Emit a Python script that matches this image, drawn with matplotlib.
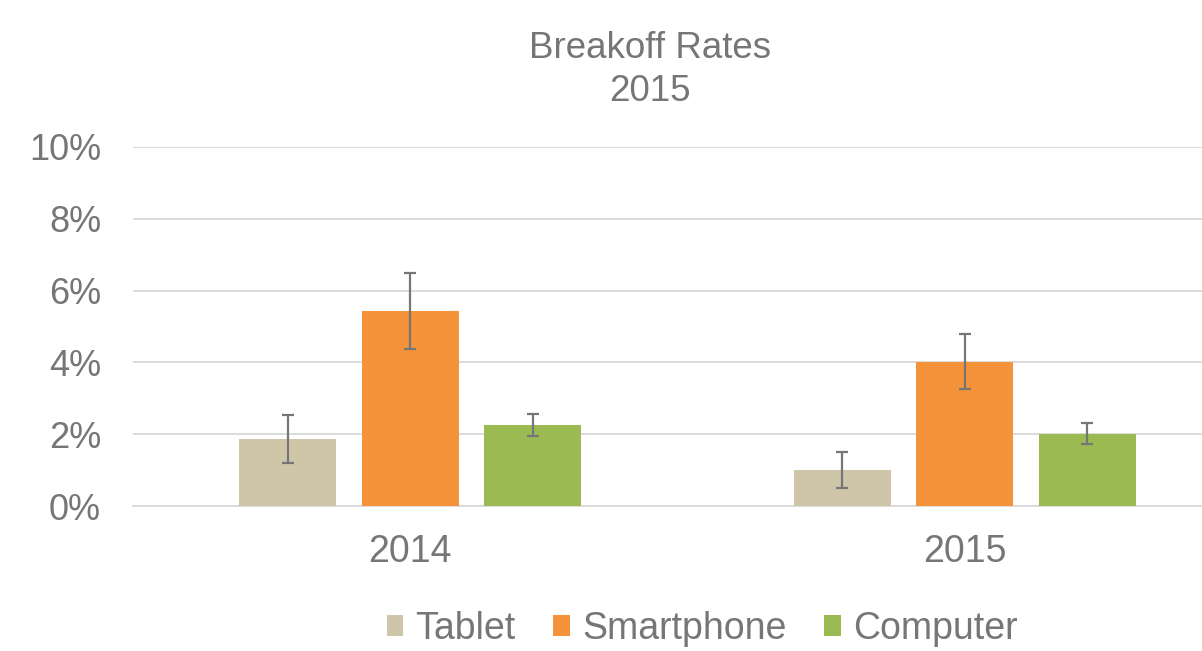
import numpy as np
import matplotlib
matplotlib.use('Agg')
from matplotlib import pyplot as plt

plt.rcParams['font.family'] = ['Liberation Sans', 'DejaVu Sans']

# data (percent)
years = ['2014', '2015']
devices = ['Tablet', 'Smartphone', 'Computer']
tablet = [1.87, 1.00]
smartphone = [5.42, 4.02]
computer = [2.25, 2.01]
tablet_err = [0.66, 0.51]
smartphone_err = [1.06, 0.76]
computer_err = [0.30, 0.29]
yticks = [0, 2, 4, 6, 8, 10]

colors = ['#CFC6AA', '#F49339', '#9BBB52']
grey = '#767676'

fig = plt.figure(figsize=(12.02, 6.51), dpi=100)
# plot area runs past the right edge of the picture (clipped, as in the original)
ax = fig.add_axes([0.1107, 0.2227, 0.9226, 0.5515])

x = np.arange(len(years))
width = 0.175
step = 0.221
series = [tablet, smartphone, computer]
errs = [tablet_err, smartphone_err, computer_err]
for i, (vals, err) in enumerate(zip(series, errs)):
    ax.bar(x + (i - 1) * step, vals, width, color=colors[i], label=devices[i],
           yerr=err, error_kw=dict(ecolor=grey, elinewidth=1.6, capsize=4.5, capthick=1.6),
           zorder=3)

ax.set_xlim(-0.5, 1.5)
ax.set_ylim(0, 10)
ax.set_yticks(yticks)
ax.set_yticklabels(['%d%%' % v for v in yticks])
ax.set_xticks(x)
ax.set_xticklabels(years)
ax.grid(axis='y', color='#D9D9D9', linewidth=1.3, zorder=0)
for s in ['top', 'right', 'left']:
    ax.spines[s].set_visible(False)
ax.spines['bottom'].set_color('#D9D9D9')
ax.spines['bottom'].set_linewidth(1.3)
ax.tick_params(axis='both', length=0, colors=grey)
ax.tick_params(axis='y', pad=23, labelsize=26)
ax.tick_params(axis='x', pad=20, labelsize=27)

fig.text(0.541, 0.893, 'Breakoff Rates\n2015', ha='center', va='center',
         fontsize=26.5, color=grey, linespacing=1.3)

leg = fig.legend(loc='center', bbox_to_anchor=(0.584, 0.034), ncol=3, frameon=False,
                 fontsize=27, handlelength=0.45, handleheight=0.45, handletextpad=0.32,
                 columnspacing=1.0)
for t in leg.get_texts():
    t.set_color(grey)

fig.savefig('out.png', dpi=100)
